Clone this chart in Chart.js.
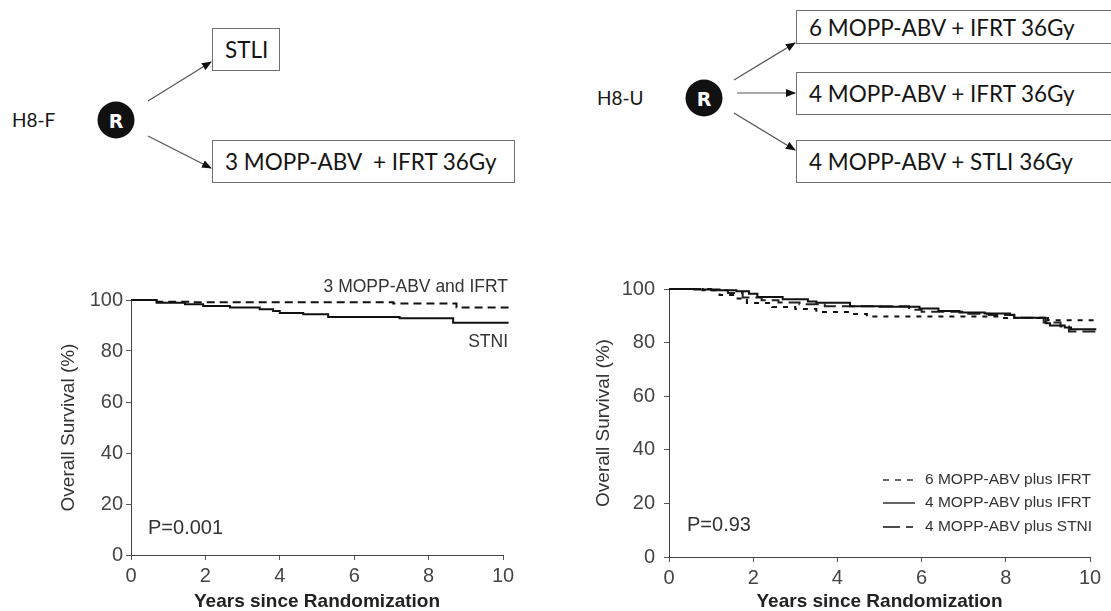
<!DOCTYPE html>
<html><head><meta charset="utf-8">
<script src="https://cdn.jsdelivr.net/npm/chart.js@4.4.0/dist/chart.umd.min.js"></script>
<style>
html,body{margin:0;padding:0;background:#fff;overflow:hidden;width:1111px;height:611px;position:relative;}
.lbl{position:absolute;font-family:Lato,'Open Sans',sans-serif;font-size:19px;color:#151515;white-space:nowrap;line-height:20px;}
.box{position:absolute;border:1px solid #707070;box-sizing:border-box;font-family:Lato,'Open Sans',sans-serif;font-size:22.5px;color:#151515;display:flex;align-items:center;padding-left:12px;white-space:nowrap;background:#fff;}
canvas{position:absolute;}
svg{position:absolute;left:0;top:0;}
</style></head>
<body>
<svg width="1111" height="611">
  <defs>
    <marker id="ah" markerWidth="10" markerHeight="8" refX="9" refY="4" orient="auto" markerUnits="userSpaceOnUse">
      <path d="M0,0 L10,4 L0,8 z" fill="#111"/>
    </marker>
  </defs>
  <circle cx="116" cy="120" r="18.5" fill="#111"/>
  <text x="116" y="127.5" text-anchor="middle" font-family="'DejaVu Sans',Lato,sans-serif" font-weight="bold" font-size="19" fill="#fff">R</text>
  <line x1="148" y1="101" x2="211" y2="62" stroke="#555" stroke-width="1.2" marker-end="url(#ah)"/>
  <line x1="148" y1="136" x2="211" y2="168" stroke="#555" stroke-width="1.2" marker-end="url(#ah)"/>
  <circle cx="704" cy="98" r="18.5" fill="#111"/>
  <text x="704" y="105.5" text-anchor="middle" font-family="'DejaVu Sans',Lato,sans-serif" font-weight="bold" font-size="19" fill="#fff">R</text>
  <line x1="734" y1="80" x2="795" y2="43" stroke="#555" stroke-width="1.2" marker-end="url(#ah)"/>
  <line x1="737" y1="93" x2="795" y2="93" stroke="#555" stroke-width="1.2" marker-end="url(#ah)"/>
  <line x1="734" y1="113" x2="795" y2="150" stroke="#555" stroke-width="1.2" marker-end="url(#ah)"/>
</svg>
<div class="lbl" style="left:12px;top:110px;">H8-F</div>
<div class="box" style="left:212px;top:28px;width:68px;height:43px;">STLI</div>
<div class="box" style="left:212px;top:140px;width:303px;height:43px;">3 MOPP-ABV&nbsp;&nbsp;+ IFRT 36Gy</div>
<div class="lbl" style="left:597px;top:88px;">H8-U</div>
<div class="box" style="left:796px;top:10px;width:330px;height:34px;">6 MOPP-ABV + IFRT 36Gy</div>
<div class="box" style="left:796px;top:72px;width:330px;height:43px;">4 MOPP-ABV + IFRT 36Gy</div>
<div class="box" style="left:796px;top:140px;width:330px;height:43px;">4 MOPP-ABV + STLI 36Gy</div>

<canvas id="c1" width="545" height="356" style="left:0px;top:255px;width:545px;height:356px;"></canvas>
<canvas id="c2" width="571" height="356" style="left:540px;top:255px;width:571px;height:356px;"></canvas>

<script>
// ---- Data ----
const xTicks = [0, 2, 4, 6, 8, 10];
const yTicks = [0, 20, 40, 60, 80, 100];

// H8-F
const h8fStniYears = [0, 0.69, 1.45, 1.94, 2.66, 3.46, 3.82, 4.0, 4.63, 5.3, 7.22, 8.66, 10.15];
const h8fStniSurv  = [100, 98.9, 98.3, 97.6, 97.1, 96.4, 95.7, 94.9, 94.4, 93.3, 92.8, 91.1, 91.1];
const h8fMopp3Years = [0, 0.69, 1.6, 7.05, 8.75, 10.15];
const h8fMopp3Surv  = [100, 99.3, 99.1, 98.6, 97.1, 97.1];

// H8-U
const h8uMopp6Years = [0, 0.8, 1.2, 1.6, 1.85, 2.45, 3.0, 3.5, 4.36, 4.7, 7.9, 9.0, 10.1];
const h8uMopp6Surv  = [100, 99.5, 97.8, 96.5, 94.8, 93.3, 92.5, 91.4, 90.7, 89.7, 89.2, 88.3, 88.3];
const h8uMopp4IfrtYears = [0, 0.6, 1.2, 1.6, 1.9, 2.1, 2.7, 3.3, 3.5, 4.3, 5.0, 5.95, 6.4, 6.9, 7.5, 8.1, 8.2, 8.95, 9.05, 9.4, 9.55, 10.15];
const h8uMopp4IfrtSurv  = [100, 99.8, 99.5, 99.2, 98.2, 97.0, 96.2, 95.3, 94.9, 93.6, 93.4, 92.7, 91.8, 91.2, 90.9, 90.4, 89.3, 87.2, 86.4, 85.6, 85.0, 85.0];
const h8uMopp4StniYears = [0, 1.0, 1.4, 1.75, 2.2, 2.6, 3.1, 3.7, 5.7, 6.0, 7.0, 7.6, 8.2, 8.9, 9.3, 9.5, 10.15];
const h8uMopp4StniSurv  = [100, 99.5, 98.5, 96.8, 95.8, 95.0, 94.3, 93.6, 92.3, 91.5, 90.8, 90.3, 89.3, 87.5, 86.0, 84.1, 84.1];

const h8uLabels = ['6 MOPP-ABV plus IFRT', '4 MOPP-ABV plus IFRT', '4 MOPP-ABV plus STNI'];

// ---- Helpers ----
const pts = (xs, ys) => xs.map((x, i) => ({x: x, y: ys[i]}));
const FONT = "'Liberation Sans', Arial, sans-serif";

function axes(yWidth, xHeight, yTitlePad, yTickPad) {
  return {
    x: {
      type: 'linear', min: 0, max: 10,
      afterBuildTicks: s => { s.ticks = xTicks.map(v => ({value: v})); },
      afterFit: s => { s.height = xHeight; },
      grid: {drawOnChartArea: false, drawTicks: true, tickLength: 5, color: '#555', lineWidth: 1},
      border: {display: true, color: '#444', width: 1},
      ticks: {color: '#444', font: {family: FONT, size: 20}, padding: 4, maxRotation: 0},
      title: {display: true, text: 'Years since Randomization', color: '#222',
              font: {family: FONT, size: 19, weight: 'bold', lineHeight: 1}, padding: {top: 0, bottom: 0}}
    },
    y: {
      type: 'linear', min: 0, max: 100,
      afterBuildTicks: s => { s.ticks = yTicks.map(v => ({value: v})); },
      afterFit: s => { s.width = yWidth; },
      grid: {drawOnChartArea: false, drawTicks: true, tickLength: 5, color: '#555', lineWidth: 1},
      border: {display: true, color: '#444', width: 1},
      ticks: {color: '#444', font: {family: FONT, size: 20}, padding: yTickPad},
      title: {display: true, text: 'Overall Survival (%)', color: '#333',
              font: {family: FONT, size: 19, lineHeight: 1.2}, padding: {top: yTitlePad, bottom: 0}}
    }
  };
}

const textPlugin = {
  id: 'texts',
  afterDraw(chart, args, opts) {
    const ctx = chart.ctx;
    ctx.save();
    (opts.items || []).forEach(t => {
      ctx.font = t.font;
      ctx.fillStyle = t.color || '#333';
      ctx.textAlign = t.align || 'left';
      ctx.textBaseline = 'middle';
      ctx.fillText(t.text, t.x, t.y);
    });
    (opts.legend || []).forEach(l => {
      ctx.strokeStyle = '#111';
      ctx.lineWidth = 1.3;
      ctx.setLineDash(l.dash);
      ctx.beginPath();
      ctx.moveTo(l.x1, l.y); ctx.lineTo(l.x2, l.y);
      ctx.stroke();
      ctx.setLineDash([]);
      ctx.font = l.font;
      ctx.fillStyle = '#333';
      ctx.textAlign = 'left';
      ctx.textBaseline = 'middle';
      ctx.fillText(l.text, l.tx, l.y);
    });
    ctx.restore();
  }
};

// ---- Chart 1 (H8-F) ----
new Chart(document.getElementById('c1'), {
  type: 'line',
  data: {
    datasets: [
      {label: '3 MOPP-ABV and IFRT', data: pts(h8fMopp3Years, h8fMopp3Surv), stepped: true,
       borderColor: '#111', borderWidth: 2, borderDash: [8, 5], pointRadius: 0, fill: false, clip: false},
      {label: 'STNI', data: pts(h8fStniYears, h8fStniSurv), stepped: true,
       borderColor: '#111', borderWidth: 2, pointRadius: 0, fill: false, clip: false}
    ]
  },
  options: {
    responsive: false, animation: false, devicePixelRatio: 1,
    layout: {padding: {left: 0, right: 42, top: 45, bottom: 0}},
    plugins: {
      legend: {display: false}, tooltip: {enabled: false},
      texts: {items: [
        {text: '3 MOPP-ABV and IFRT', x: 508, y: 32, align: 'right', font: "17.5px " + FONT, color: '#333'},
        {text: 'STNI', x: 508, y: 87, align: 'right', font: "17.5px " + FONT, color: '#333'},
        {text: 'P=0.001', x: 148, y: 273, align: 'left', font: "20px " + FONT, color: '#333'}
      ]}
    },
    scales: axes(131, 56, 57, 3)
  },
  plugins: [textPlugin]
});

// ---- Chart 2 (H8-U) ----
new Chart(document.getElementById('c2'), {
  type: 'line',
  data: {
    datasets: [
      {label: h8uLabels[0], data: pts(h8uMopp6Years, h8uMopp6Surv), stepped: true,
       borderColor: '#111', borderWidth: 2, borderDash: [5, 6], pointRadius: 0, fill: false, clip: false},
      {label: h8uLabels[1], data: pts(h8uMopp4IfrtYears, h8uMopp4IfrtSurv), stepped: true,
       borderColor: '#111', borderWidth: 2, pointRadius: 0, fill: false, clip: false},
      {label: h8uLabels[2], data: pts(h8uMopp4StniYears, h8uMopp4StniSurv), stepped: true,
       borderColor: '#222', borderWidth: 2, borderDash: [13, 6], pointRadius: 0, fill: false, clip: false}
    ]
  },
  options: {
    responsive: false, animation: false, devicePixelRatio: 1,
    layout: {padding: {left: 0, right: 21, top: 34, bottom: 0}},
    plugins: {
      legend: {display: false}, tooltip: {enabled: false},
      texts: {
        items: [
          {text: 'P=0.93', x: 147, y: 270, align: 'left', font: "20px " + FONT, color: '#333'}
        ],
        legend: [
          {text: h8uLabels[0], dash: [6, 6], x1: 343, x2: 375, tx: 385, y: 225, font: "15.5px " + FONT},
          {text: h8uLabels[1], dash: [], x1: 343, x2: 375, tx: 385, y: 248, font: "15.5px " + FONT},
          {text: h8uLabels[2], dash: [17, 6, 7, 40], x1: 343, x2: 375, tx: 385, y: 272, font: "15.5px " + FONT}
        ]
      }
    },
    scales: axes(129, 54, 52, 9)
  },
  plugins: [textPlugin]
});
</script>
</body></html>
